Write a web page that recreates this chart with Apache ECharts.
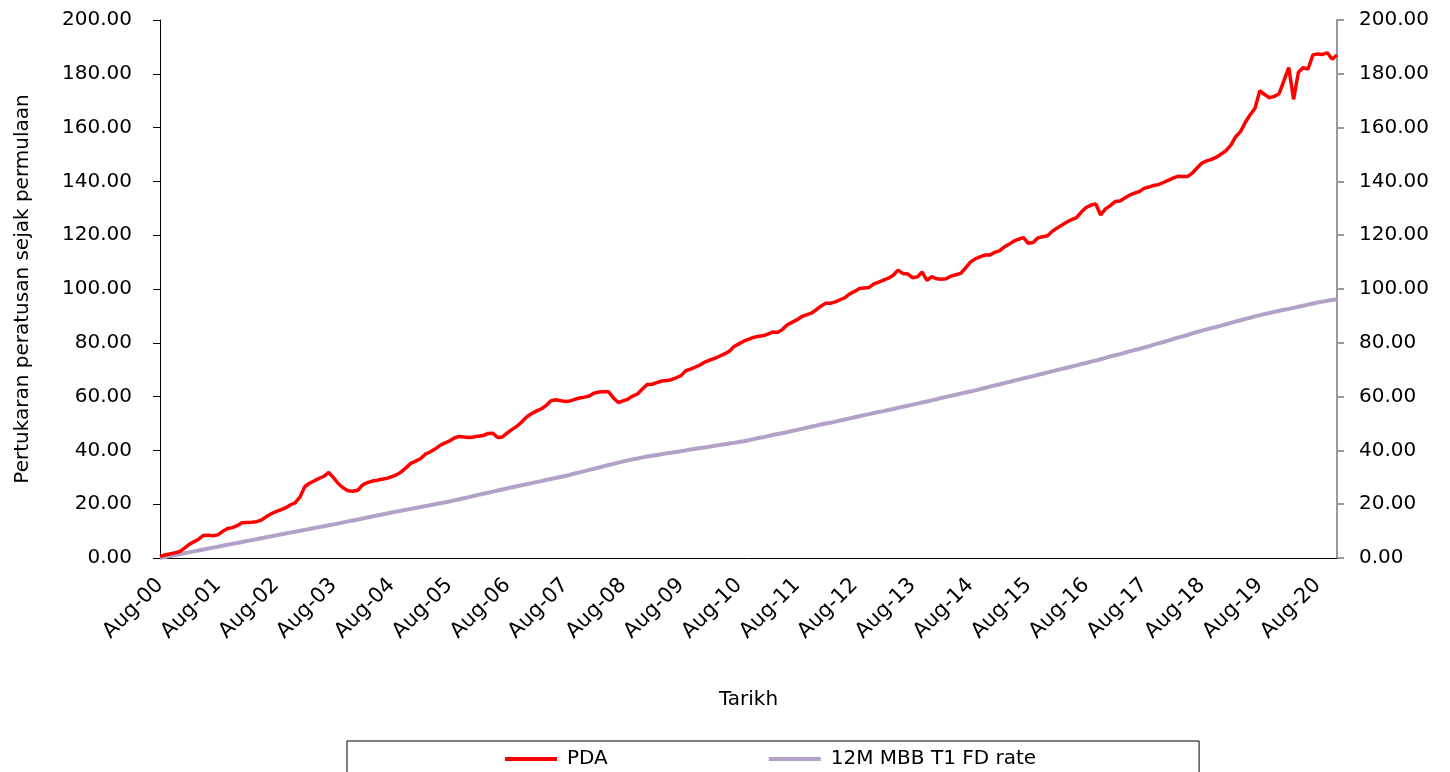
<!DOCTYPE html>
<html>
<head>
<meta charset="utf-8">
<script src="https://cdn.jsdelivr.net/npm/echarts@6/dist/echarts.min.js"></script>
<style>
html, body { margin: 0; padding: 0; background: #fff; }
#chart { width: 1450px; height: 772px; }
</style>
</head>
<body>
<div id="chart"></div>
<script>
// monthly categories, Aug-00 .. Dec-20
var monthNames = ['Jan','Feb','Mar','Apr','May','Jun','Jul','Aug','Sep','Oct','Nov','Dec'];
var startYear = 2000, startMonth = 7, monthCount = 245;
var categories = [];
for (var i = 0; i < monthCount; i++) {
	var m = (startMonth + i) % 12;
	var y = startYear + Math.floor((startMonth + i) / 12);
	categories.push(monthNames[m] + '-' + String(y % 100).padStart(2, '0'));
}

var seriesNames = ['PDA', '12M MBB T1 FD rate'];

// PDA (one row per Aug..Jul year)
var pda = [
	0.6,1.1,1.5,1.9,2.3,3.6,5.0,6.0,7.0,8.4,8.5,8.3,
	8.6,9.9,11.0,11.3,12.0,13.1,13.2,13.3,13.5,14.1,15.3,16.4,
	17.2,17.9,18.6,19.7,20.5,22.6,26.5,27.8,28.7,29.6,30.4,31.8,
	29.8,27.6,26.0,25.0,24.8,25.2,27.2,28.0,28.6,28.9,29.3,29.6,
	30.2,30.9,32.0,33.5,35.2,36.0,36.9,38.6,39.4,40.5,41.8,42.7,
	43.5,44.6,45.2,45.0,44.8,45.0,45.3,45.5,46.3,46.4,44.8,45.0,
	46.5,47.8,49.0,50.6,52.4,53.6,54.6,55.4,56.6,58.4,58.8,58.5,
	58.2,58.4,59.0,59.5,59.8,60.2,61.3,61.7,61.8,61.8,59.5,57.8,
	58.4,59.1,60.2,61.0,62.8,64.5,64.6,65.2,65.8,66.0,66.3,67.0,
	67.8,69.6,70.2,71.0,71.8,72.9,73.6,74.2,75.0,75.9,76.8,78.6,
	79.6,80.6,81.3,82.0,82.4,82.6,83.2,84.0,83.8,84.9,86.6,87.6,
	88.5,89.7,90.4,91.0,92.2,93.6,94.7,94.7,95.2,96.0,96.8,98.2,
	99.1,100.2,100.4,100.6,101.9,102.6,103.3,104.0,105.1,107.0,105.8,105.6,
	104.2,104.5,106.3,103.2,104.6,103.8,103.6,103.8,104.8,105.3,105.8,107.8,
	110.0,111.2,111.9,112.6,112.6,113.6,114.2,115.6,116.6,117.8,118.5,119.1,
	117.0,117.3,119.0,119.4,119.8,121.5,122.7,123.8,124.9,125.8,126.5,128.6,
	130.3,131.2,131.6,127.5,129.8,131.0,132.5,132.7,133.8,134.9,135.6,136.2,
	137.4,137.9,138.5,138.8,139.6,140.4,141.2,141.9,141.8,141.8,143.1,145.0,
	146.8,147.6,148.2,149.0,150.2,151.4,153.5,156.6,158.5,162.0,164.8,167.2,
	173.7,172.3,171.1,171.6,172.6,177.5,182.3,170.5,180.6,182.3,181.8,187.0,
	187.4,187.2,187.8,185.4,187.0
];

// 12M MBB T1 FD rate
var fdRate = [
	0,0.35,0.7,1.05,1.4,1.75,2.1,2.45,2.8,3.15,3.5,3.85,
	4.2,4.55,4.9,5.25,5.6,5.95,6.3,6.65,7.0,7.35,7.7,8.05,
	8.4,8.74,9.08,9.43,9.77,10.11,10.45,10.79,11.13,11.48,11.82,12.16,
	12.5,12.87,13.23,13.6,13.97,14.33,14.7,15.07,15.43,15.8,16.17,16.53,
	16.9,17.24,17.58,17.93,18.27,18.61,18.95,19.29,19.63,19.98,20.32,20.66,
	21.0,21.41,21.82,22.23,22.63,23.04,23.45,23.86,24.27,24.68,25.08,25.49,
	25.9,26.28,26.67,27.05,27.43,27.82,28.2,28.58,28.97,29.35,29.73,30.12,
	30.5,30.95,31.4,31.85,32.3,32.75,33.2,33.65,34.1,34.55,35.0,35.45,
	35.9,36.3,36.7,37.0,37.4,37.7,38.0,38.3,38.6,38.9,39.1,39.4,
	39.7,40.0,40.3,40.6,40.9,41.1,41.4,41.7,42.0,42.3,42.6,42.8,
	43.1,43.4,43.8,44.2,44.6,44.9,45.3,45.7,46.1,46.4,46.8,47.2,
	47.6,48.0,48.4,48.8,49.2,49.6,50.0,50.3,50.7,51.1,51.5,51.9,
	52.3,52.7,53.1,53.5,53.9,54.3,54.6,55.0,55.4,55.8,56.2,56.6,
	57.0,57.4,57.8,58.2,58.6,59.0,59.5,59.9,60.3,60.7,61.1,61.5,
	61.9,62.3,62.8,63.2,63.7,64.1,64.5,65.0,65.4,65.9,66.3,66.8,
	67.2,67.6,68.1,68.5,69.0,69.4,69.9,70.3,70.7,71.2,71.6,72.1,
	72.5,73.0,73.4,73.9,74.4,74.9,75.4,75.8,76.3,76.8,77.3,77.7,
	78.2,78.7,79.3,79.8,80.3,80.8,81.4,81.9,82.4,82.9,83.5,84.0,
	84.5,85.0,85.5,85.9,86.4,86.9,87.4,87.9,88.4,88.9,89.3,89.8,
	90.3,90.7,91.1,91.5,91.9,92.3,92.6,93.0,93.4,93.8,94.2,94.6,
	95.0,95.3,95.6,95.9,96.2
];

var FONT = 'DejaVu Sans';

var myChart = echarts.init(document.getElementById('chart'), null, { renderer: 'canvas' });
myChart.setOption({
	animation: false,
	textStyle: { fontFamily: FONT, color: '#000' },
	grid: { left: 160, right: 113, top: 20, bottom: 214, containLabel: false, outerBoundsMode: 'none' },
	legend: {
		left: 347,
		top: 741,
		padding: [8, 163, 30, 158],
		borderColor: '#000',
		borderWidth: 1,
		itemGap: 161,
		itemWidth: 52,
		itemHeight: 4,
		icon: 'rect',
		textStyle: { fontFamily: FONT, fontSize: 20, color: '#000', padding: [0, 0, 0, 5] },
		data: seriesNames
	},
	xAxis: {
		type: 'category',
		data: categories,
		boundaryGap: false,
		name: 'Tarikh',
		nameLocation: 'middle',
		nameGap: 132,
		nameTextStyle: { fontFamily: FONT, fontSize: 20, color: '#000' },
		axisLine: { lineStyle: { color: '#000', width: 1 } },
		axisTick: { show: false },
		axisLabel: { interval: 11, rotate: 45, margin: 24, fontFamily: FONT, fontSize: 21, color: '#000' },
		splitLine: { show: false }
	},
	yAxis: [
		{
			type: 'value',
			min: 0, max: 200, interval: 20,
			position: 'left',
			name: 'Pertukaran peratusan sejak permulaan',
			nameLocation: 'middle',
			nameRotate: 90,
			nameGap: 127,
			nameTextStyle: { fontFamily: FONT, fontSize: 20, color: '#000' },
			axisLine: { show: true, lineStyle: { color: '#000', width: 1 } },
			axisTick: { show: true, length: 7, lineStyle: { color: '#000' } },
			axisLabel: { margin: 28, fontFamily: FONT, fontSize: 20, color: '#000', formatter: function (v) { return v.toFixed(2); } },
			splitLine: { show: false }
		},
		{
			type: 'value',
			min: 0, max: 200, interval: 20,
			position: 'right',
			axisLine: { show: true, lineStyle: { color: '#999', width: 2 } },
			axisTick: { show: true, length: 7, lineStyle: { color: '#999', width: 2 } },
			axisLabel: { margin: 22, fontFamily: FONT, fontSize: 20, color: '#000', formatter: function (v) { return v.toFixed(2); } },
			splitLine: { show: false }
		}
	],
	series: [
		{
			name: seriesNames[0],
			type: 'line',
			data: pda,
			showSymbol: false,
			z: 3,
			itemStyle: { color: '#ff0000' },
			lineStyle: { color: '#ff0000', width: 3.5 }
		},
		{
			name: seriesNames[1],
			type: 'line',
			data: fdRate,
			showSymbol: false,
			z: 2,
			itemStyle: { color: '#b3a2c7' },
			lineStyle: { color: '#b3a2c7', width: 4 }
		}
	]
});
</script>
</body>
</html>
